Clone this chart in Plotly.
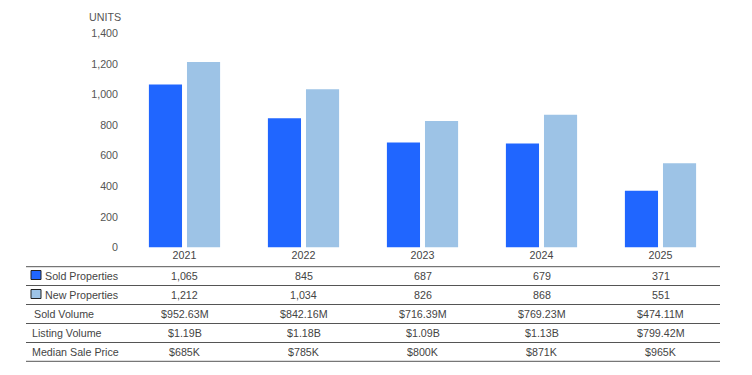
import plotly.graph_objects as go

years = ["2021", "2022", "2023", "2024", "2025"]
sold_properties = [1065, 845, 687, 679, 371]
new_properties = [1212, 1034, 826, 868, 551]
sold_volume = ["$952.63M", "$842.16M", "$716.39M", "$769.23M", "$474.11M"]
listing_volume = ["$1.19B", "$1.18B", "$1.09B", "$1.13B", "$799.42M"]
median_sale_price = ["$685K", "$785K", "$800K", "$871K", "$965K"]
y_ticks = [0, 200, 400, 600, 800, 1000, 1200, 1400]

# page body has an 8px margin; figure sized to fit the 752x375 window
OFF = 8
W, H = 744, 359
SOLD_C = "#2066FF"
NEW_C = "#9DC3E6"
FONT = "Liberation Sans, Arial, sans-serif"
TXT = "#444444"
FS = 10.7

def py(p):
    return 1 - (p - OFF) / H

def px(p):
    return (p - OFF) / W

fig = go.Figure()
fig.add_trace(go.Bar(x=years, y=sold_properties, name="Sold Properties",
                     marker=dict(color=SOLD_C, line=dict(width=0)), hoverinfo="x+y"))
fig.add_trace(go.Bar(x=years, y=new_properties, name="New Properties",
                     marker=dict(color=NEW_C, line=dict(width=0)), hoverinfo="x+y"))

rows = [
    ("Sold Properties", [f"{v:,}" for v in sold_properties], 276, 42.5),
    ("New Properties", [f"{v:,}" for v in new_properties], 295, 42.5),
    ("Sold Volume", sold_volume, 314, 31.5),
    ("Listing Volume", listing_volume, 333, 29.5),
    ("Median Sale Price", median_sale_price, 352, 29.5),
]

ann = []
for label, vals, yc, lx in rows:
    ann.append(dict(x=px(lx), y=py(yc), xref="paper", yref="paper", text=label,
                    showarrow=False, xanchor="left", yanchor="middle",
                    font=dict(family=FONT, size=FS, color=TXT)))
    for i, v in enumerate(vals):
        ann.append(dict(x=i, y=py(yc), xref="x", yref="paper", text=v,
                        showarrow=False, xanchor="center", yanchor="middle",
                        font=dict(family=FONT, size=FS, color=TXT)))

ann.append(dict(x=px(105), y=py(17), xref="paper", yref="paper", text="UNITS",
                showarrow=False, xanchor="center", yanchor="middle",
                font=dict(family=FONT, size=FS, color="#555555")))

shapes = []
for ly in [266.7, 285.5, 304.5, 323.5, 342.5, 361.3]:
    shapes.append(dict(type="line", xref="paper", yref="paper",
                       x0=px(26), x1=px(720), y0=py(ly), y1=py(ly),
                       line=dict(color="#555555", width=1)))
for col, yc in [(SOLD_C, 275), (NEW_C, 294)]:
    shapes.append(dict(type="rect", xref="paper", yref="paper",
                       x0=px(31), x1=px(41), y0=py(yc - 4.5), y1=py(yc + 4.5),
                       fillcolor=col, line=dict(color="#222222", width=1)))

fig.update_layout(
    width=W, height=H, autosize=False,
    margin=dict(l=0, r=0, t=0, b=0, pad=0, autoexpand=False),
    paper_bgcolor="white", plot_bgcolor="white",
    barmode="group", bargap=0.36, bargroupgap=0.13,
    showlegend=False,
    font=dict(family=FONT, size=FS, color=TXT),
    xaxis=dict(type="category", domain=[px(125), px(720)], range=[-0.5, len(years) - 0.5],
               showgrid=False, showline=False, zeroline=False, ticks="",
               tickfont=dict(family=FONT, size=FS, color=TXT)),
    yaxis=dict(domain=[py(247.5), py(33.3)], range=[0, 1400], tickvals=y_ticks,
               tickformat=",", showgrid=False, showline=False, zeroline=False,
               ticks="", ticklabelstandoff=6,
               tickfont=dict(family=FONT, size=FS, color="#555555")),
    annotations=ann, shapes=shapes,
)

fig.write_html("out.html")
